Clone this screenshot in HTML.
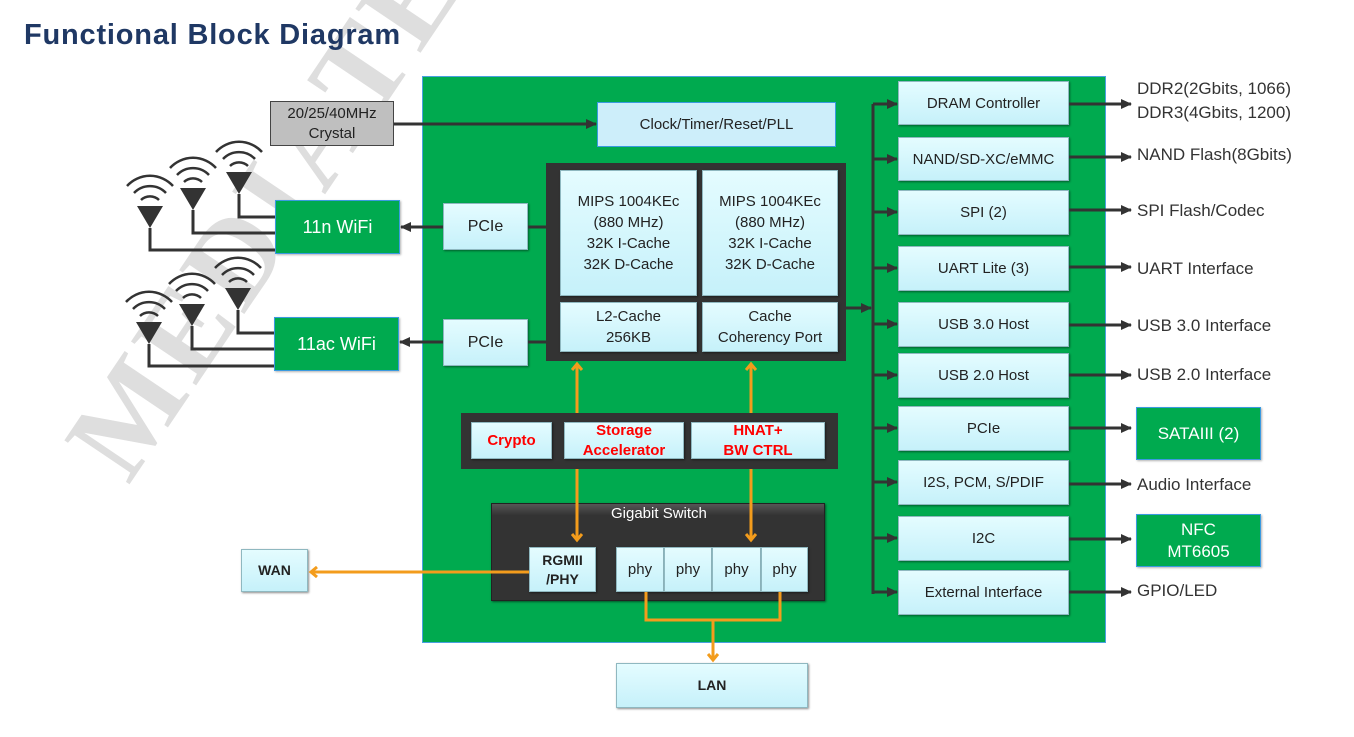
<!DOCTYPE html>
<html><head><meta charset="utf-8"><style>
body{margin:0;width:1354px;height:737px;background:#fff;position:relative;overflow:hidden;font-family:"Liberation Sans",Arial,sans-serif;}
.a{position:absolute;box-sizing:border-box;display:flex;align-items:center;justify-content:center;text-align:center;}
.lb{background:linear-gradient(#e4fcff,#c6f1fa);border:1px solid #8fb8c0;box-shadow:1px 1px 2px rgba(0,0,0,.45);color:#222;font-size:15px;line-height:21px;}
.gr{background:#00aa4f;border:1px solid #3a9ae0;color:#fff;font-size:18px;line-height:22px;box-shadow:1px 1px 2px rgba(0,0,0,.3);}
.red{color:#f00;font-weight:bold;}
.t{position:absolute;font-size:17px;color:#333;white-space:nowrap;}
</style></head><body>
<div style="position:absolute;left:38px;top:425px;font-size:120px;font-weight:bold;color:#dedede;transform:rotate(-56deg);transform-origin:0 0;letter-spacing:6px;white-space:nowrap;font-family:'Liberation Serif',serif;">MEDIATEK</div>
<div style="position:absolute;left:24px;top:19px;font-size:29px;font-weight:bold;color:#1f3864;letter-spacing:0.8px;">Functional Block Diagram</div>

<div class="a" style="left:422px;top:76px;width:684px;height:567px;background:#00aa4f;border:1px solid #4aa0e0;"></div>

<div class="a" style="left:270px;top:101px;width:124px;height:45px;background:#bfbfbf;border:1px solid #444;font-size:15px;line-height:20px;color:#222;">20/25/40MHz<br>Crystal</div>
<div class="a" style="left:597px;top:102px;width:239px;height:45px;background:#cdeefa;border:1px solid #3a9ae0;font-size:15px;color:#222;">Clock/Timer/Reset/PLL</div>

<div class="a" style="left:546px;top:163px;width:300px;height:198px;background:#333;"></div>
<div class="a lb" style="left:560px;top:170px;width:137px;height:126px;">MIPS 1004KEc<br>(880 MHz)<br>32K I-Cache<br>32K D-Cache</div>
<div class="a lb" style="left:702px;top:170px;width:136px;height:126px;">MIPS 1004KEc<br>(880 MHz)<br>32K I-Cache<br>32K D-Cache</div>
<div class="a lb" style="left:560px;top:302px;width:137px;height:50px;">L2-Cache<br>256KB</div>
<div class="a lb" style="left:702px;top:302px;width:136px;height:50px;">Cache<br>Coherency Port</div>

<div class="a lb" style="left:443px;top:203px;width:85px;height:47px;font-size:16px;">PCIe</div>
<div class="a lb" style="left:443px;top:319px;width:85px;height:47px;font-size:16px;">PCIe</div>
<div class="a gr" style="left:275px;top:200px;width:125px;height:54px;">11n WiFi</div>
<div class="a gr" style="left:274px;top:317px;width:125px;height:54px;">11ac WiFi</div>

<div class="a" style="left:461px;top:413px;width:377px;height:56px;background:#333;"></div>
<div class="a lb red" style="left:471px;top:422px;width:81px;height:37px;color:#f00;">Crypto</div>
<div class="a lb red" style="left:564px;top:422px;width:120px;height:37px;color:#f00;line-height:20px;">Storage<br>Accelerator</div>
<div class="a lb red" style="left:691px;top:422px;width:134px;height:37px;color:#f00;line-height:20px;">HNAT+<br>BW CTRL</div>

<div class="a" style="left:491px;top:503px;width:334px;height:98px;background:linear-gradient(#555,#333 12%,#333);border:1px solid #222;box-shadow:1px 1px 2px rgba(0,0,0,.5);"></div>
<div class="t" style="left:611px;top:505px;color:#fff;font-size:15px;">Gigabit Switch</div>
<div class="a lb" style="left:529px;top:547px;width:67px;height:45px;font-weight:bold;font-size:14px;line-height:19px;">RGMII<br>/PHY</div>
<div class="a lb" style="left:616px;top:547px;width:48px;height:45px;">phy</div>
<div class="a lb" style="left:664px;top:547px;width:48px;height:45px;">phy</div>
<div class="a lb" style="left:712px;top:547px;width:49px;height:45px;">phy</div>
<div class="a lb" style="left:761px;top:547px;width:47px;height:45px;">phy</div>
<div class="a lb" style="left:241px;top:549px;width:67px;height:43px;font-weight:bold;font-size:14px;">WAN</div>
<div class="a lb" style="left:616px;top:663px;width:192px;height:45px;font-weight:bold;font-size:14px;">LAN</div>

<div class="a lb" style="left:898px;top:81px;width:171px;height:44px;">DRAM Controller</div>
<div class="a lb" style="left:898px;top:137px;width:171px;height:44px;">NAND/SD-XC/eMMC</div>
<div class="a lb" style="left:898px;top:190px;width:171px;height:45px;">SPI (2)</div>
<div class="a lb" style="left:898px;top:246px;width:171px;height:45px;">UART Lite (3)</div>
<div class="a lb" style="left:898px;top:302px;width:171px;height:45px;">USB 3.0 Host</div>
<div class="a lb" style="left:898px;top:353px;width:171px;height:45px;">USB 2.0 Host</div>
<div class="a lb" style="left:898px;top:406px;width:171px;height:45px;">PCIe</div>
<div class="a lb" style="left:898px;top:460px;width:171px;height:45px;">I2S, PCM, S/PDIF</div>
<div class="a lb" style="left:898px;top:516px;width:171px;height:45px;">I2C</div>
<div class="a lb" style="left:898px;top:570px;width:171px;height:45px;">External Interface</div>

<div class="t" style="left:1137px;top:79px;">DDR2(2Gbits, 1066)</div>
<div class="t" style="left:1137px;top:103px;">DDR3(4Gbits, 1200)</div>
<div class="t" style="left:1137px;top:145px;">NAND Flash(8Gbits)</div>
<div class="t" style="left:1137px;top:201px;">SPI Flash/Codec</div>
<div class="t" style="left:1137px;top:259px;">UART Interface</div>
<div class="t" style="left:1137px;top:316px;">USB 3.0 Interface</div>
<div class="t" style="left:1137px;top:365px;">USB 2.0 Interface</div>
<div class="a gr" style="left:1136px;top:407px;width:125px;height:53px;font-size:17px;">SATAIII (2)</div>
<div class="t" style="left:1137px;top:475px;">Audio Interface</div>
<div class="a gr" style="left:1136px;top:514px;width:125px;height:53px;font-size:17px;">NFC<br>MT6605</div>
<div class="t" style="left:1137px;top:581px;">GPIO/LED</div>

<svg style="position:absolute;left:0;top:0" width="1354" height="737">
<defs>
<marker id="k" markerWidth="11" markerHeight="10" refX="10" refY="5" orient="auto" markerUnits="userSpaceOnUse"><path d="M0,0L11,5L0,10z" fill="#333"/></marker>
<marker id="o" markerWidth="14" markerHeight="12" refX="7" refY="6" orient="auto" markerUnits="userSpaceOnUse"><path d="M1,1L7,6L1,11" fill="none" stroke="#f39c1c" stroke-width="3"/></marker>
</defs>
<g stroke="#333" stroke-width="3" fill="none">
<line x1="394" y1="124" x2="596" y2="124" marker-end="url(#k)"/>
<line x1="443" y1="227" x2="401" y2="227" marker-end="url(#k)"/>
<line x1="443" y1="342" x2="400" y2="342" marker-end="url(#k)"/>
<line x1="528" y1="227" x2="546" y2="227"/>
<line x1="528" y1="342" x2="546" y2="342"/>
<line x1="846" y1="308" x2="871" y2="308" marker-end="url(#k)"/>
<line x1="873" y1="104" x2="873" y2="594"/>
<g marker-end="url(#k)">
<line x1="873" y1="104" x2="897" y2="104"/><line x1="873" y1="159" x2="897" y2="159"/>
<line x1="873" y1="212" x2="897" y2="212"/><line x1="873" y1="268" x2="897" y2="268"/>
<line x1="873" y1="324" x2="897" y2="324"/><line x1="873" y1="375" x2="897" y2="375"/>
<line x1="873" y1="428" x2="897" y2="428"/><line x1="873" y1="482" x2="897" y2="482"/>
<line x1="873" y1="538" x2="897" y2="538"/><line x1="873" y1="592" x2="897" y2="592"/>
<line x1="1069" y1="104" x2="1131" y2="104"/><line x1="1069" y1="157" x2="1131" y2="157"/>
<line x1="1069" y1="210" x2="1131" y2="210"/><line x1="1069" y1="267" x2="1131" y2="267"/>
<line x1="1069" y1="325" x2="1131" y2="325"/><line x1="1069" y1="375" x2="1131" y2="375"/>
<line x1="1069" y1="428" x2="1131" y2="428"/><line x1="1069" y1="484" x2="1131" y2="484"/>
<line x1="1069" y1="539" x2="1131" y2="539"/><line x1="1069" y1="592" x2="1131" y2="592"/>
</g>
</g>
<g stroke="#f39c1c" stroke-width="3" fill="none">
<line x1="577" y1="413" x2="577" y2="364" marker-end="url(#o)"/>
<line x1="751" y1="413" x2="751" y2="364" marker-end="url(#o)"/>
<line x1="577" y1="469" x2="577" y2="540" marker-end="url(#o)"/>
<line x1="751" y1="469" x2="751" y2="540" marker-end="url(#o)"/>
<line x1="529" y1="572" x2="311" y2="572" marker-end="url(#o)"/>
<path d="M646,592V620H780V592"/>
<line x1="713" y1="620" x2="713" y2="660" marker-end="url(#o)"/>
</g>
<g id="ant" stroke="#333" stroke-width="3" fill="none">
<path d="M150,228V250H275M193,210V233H275M239,194V217H275"/>
<path d="M137,206H163L150,228z M180,188H206L193,210z M226,172H252L239,194z" fill="#333" stroke="none"/>
<g stroke-width="2.5">
<path d="M141,200A13,13 0 0 1 159,200M134,193A22,22 0 0 1 166,193M127,186A31,31 0 0 1 173,186"/>
<path d="M184,182A13,13 0 0 1 202,182M177,175A22,22 0 0 1 209,175M170,168A31,31 0 0 1 216,168"/>
<path d="M230,166A13,13 0 0 1 248,166M223,159A22,22 0 0 1 255,159M216,152A31,31 0 0 1 262,152"/>
</g>
</g>
<use href="#ant" transform="translate(-1,116)"/>
</svg>
</body></html>
